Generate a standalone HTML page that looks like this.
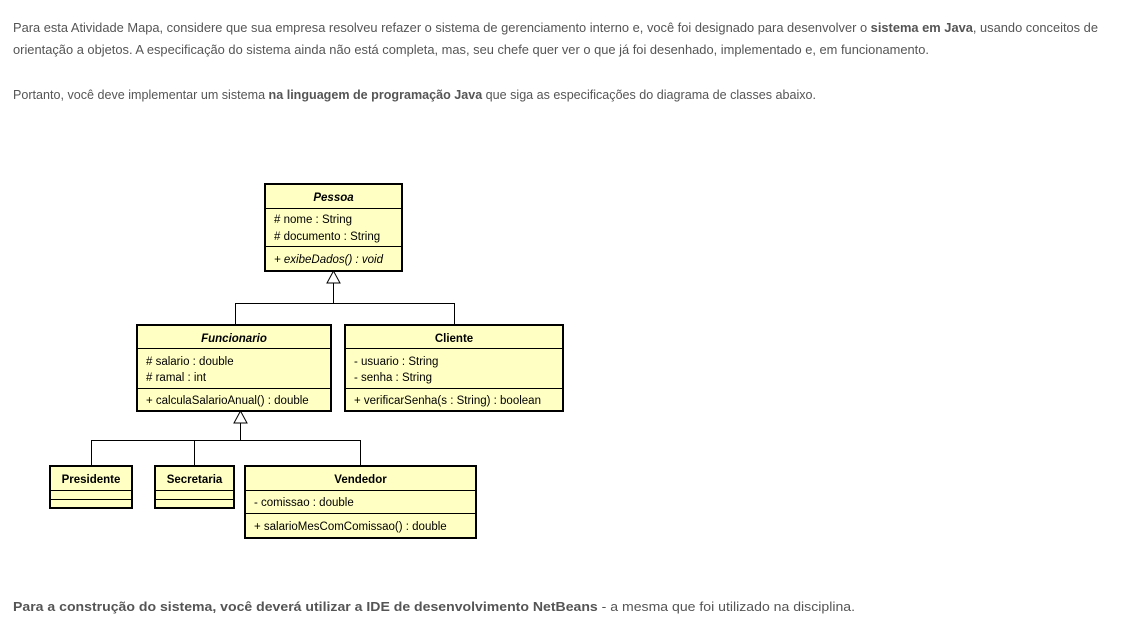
<!DOCTYPE html>
<html><head><meta charset="utf-8"><style>
html,body{margin:0;padding:0;background:#fff;width:1140px;height:617px;overflow:hidden}
svg{display:block}
.p{font-family:"Liberation Sans",sans-serif;font-size:13px;fill:#555}
.b{font-weight:bold}
.u{font-family:"Liberation Sans",sans-serif;font-size:11.5px;fill:#000}
</style></head><body>
<svg width="1140" height="617" xmlns="http://www.w3.org/2000/svg">
<text class="p" x="13" y="32" textLength="1085" lengthAdjust="spacingAndGlyphs">Para esta Atividade Mapa, considere que sua empresa resolveu refazer o sistema de gerenciamento interno e, você foi designado para desenvolver o <tspan class="b">sistema em Java</tspan>, usando conceitos de</text>
<text class="p" x="13" y="54" textLength="916" lengthAdjust="spacingAndGlyphs">orientação a objetos. A especificação do sistema ainda não está completa, mas, seu chefe quer ver o que já foi desenhado, implementado e, em funcionamento.</text>
<text class="p" x="13" y="99" textLength="803" lengthAdjust="spacingAndGlyphs">Portanto, você deve implementar um sistema <tspan class="b">na linguagem de programação Java</tspan> que siga as especificações do diagrama de classes abaixo.</text>
<text class="p" x="13" y="611" textLength="842" lengthAdjust="spacingAndGlyphs"><tspan class="b">Para a construção do sistema, você deverá utilizar a IDE de desenvolvimento NetBeans</tspan> - a mesma que foi utilizado na disciplina.</text>

<g stroke="#000" stroke-width="1" fill="none">
<path d="M333.5 283 V303.5 H235.5 V324 M333.5 303.5 H454.5 V324"/>
<path d="M240.5 423 V440.5 H91.5 V465 M240.5 440.5 H360.5 V465 M240.5 440.5 H194.5 V465"/>
<polygon points="333.5,271 327,283 340,283" fill="#fff"/>
<polygon points="240.5,411 234,423 247,423" fill="#fff"/>
</g>

<g stroke="#000" fill="#ffffc4">
<rect x="265" y="184" width="137" height="87" stroke-width="2"/>
<rect x="137" y="325" width="194" height="86" stroke-width="2"/>
<rect x="345" y="325" width="218" height="86" stroke-width="2"/>
<rect x="50" y="466" width="82" height="42" stroke-width="2"/>
<rect x="155" y="466" width="79" height="42" stroke-width="2"/>
<rect x="245" y="466" width="231" height="72" stroke-width="2"/>
</g>
<g stroke="#000" stroke-width="1">
<path d="M265 208.5H402M265 246.5H402"/>
<path d="M137 348.5H331M137 388.5H331"/>
<path d="M345 348.5H563M345 388.5H563"/>
<path d="M50 490.5H132M50 499.5H132"/>
<path d="M155 490.5H234M155 499.5H234"/>
<path d="M245 490.5H476M245 513.5H476"/>
</g>
<g class="u">
<text x="333.5" y="201" text-anchor="middle" font-weight="bold" font-style="italic">Pessoa</text>
<text x="274" y="223"># nome : String</text>
<text x="274" y="240"># documento : String</text>
<text x="274" y="263" font-style="italic">+ exibeDados() : void</text>
<text x="234" y="342" text-anchor="middle" font-weight="bold" font-style="italic">Funcionario</text>
<text x="146" y="365"># salario : double</text>
<text x="146" y="381"># ramal : int</text>
<text x="146" y="404">+ calculaSalarioAnual() : double</text>
<text x="454" y="342" text-anchor="middle" font-weight="bold">Cliente</text>
<text x="354" y="365">- usuario : String</text>
<text x="354" y="381">- senha : String</text>
<text x="354" y="404">+ verificarSenha(s : String) : boolean</text>
<text x="91" y="483" text-anchor="middle" font-weight="bold">Presidente</text>
<text x="194.5" y="483" text-anchor="middle" font-weight="bold">Secretaria</text>
<text x="360.5" y="483" text-anchor="middle" font-weight="bold">Vendedor</text>
<text x="254" y="506">- comissao : double</text>
<text x="254" y="530">+ salarioMesComComissao() : double</text>
</g>
</svg>
</body></html>
